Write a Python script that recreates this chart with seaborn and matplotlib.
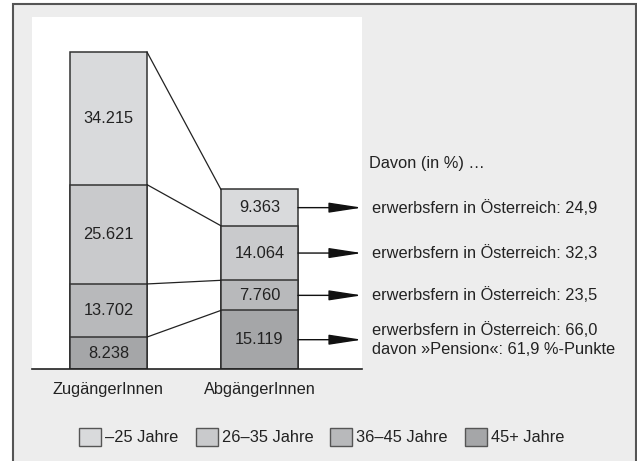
import numpy as np
import pandas as pd
import seaborn as sns
import matplotlib
matplotlib.use("Agg")
import matplotlib.pyplot as plt
from matplotlib.patches import Patch, Rectangle

groups = ["ZugängerInnen", "AbgängerInnen"]
age_labels = ["–25 Jahre", "26–35 Jahre", "36–45 Jahre", "45+ Jahre"]
zugang = [34215, 25621, 13702, 8238]
abgang = [9363, 14064, 7760, 15119]
colors = ["#d9dadc", "#c9cacc", "#b8b9bb", "#a5a6a8"]
davon_title = "Davon (in %) …"
davon_texts = [
    "erwerbsfern in Österreich: 24,9",
    "erwerbsfern in Österreich: 32,3",
    "erwerbsfern in Österreich: 23,5",
    "erwerbsfern in Österreich: 66,0\ndavon »Pension«: 61,9 %-Punkte",
]

sns.set_theme(style="white")
plt.rcParams['font.family'] = ['Liberation Sans', 'DejaVu Sans']
FS = 11.8
TXT = "#222222"

W, H = 637, 461
fig = plt.figure(figsize=(W / 100, H / 100), dpi=100)
fig.patch.set_facecolor("white")

# outer grey frame
fig.patches.append(Rectangle((13 / W, -0.05), (636 - 13) / W, 1.05 - 3.5 / H,
                             transform=fig.transFigure, facecolor="#ededed",
                             edgecolor="#555555", linewidth=1.5, zorder=-5))

ax = fig.add_axes([32 / W, 1 - 369 / H, (362 - 32) / W, (369 - 17) / H])
ax.set_zorder(1)
ax.set_facecolor("white")

# data cumulative from bottom (45+ at bottom)
order_bottom_up = [3, 2, 1, 0]
cum = {g: {} for g in groups}
for g, vals in zip(groups, [zugang, abgang]):
    run = 0
    for k in order_bottom_up:
        run += vals[k]
        cum[g][k] = (run - vals[k], run)

# draw tallest (top segment) first, then smaller cumulative bars over them
for k in [0, 1, 2, 3]:
    df = pd.DataFrame({"group": groups, "top": [cum[g][k][1] for g in groups]})
    sns.barplot(data=df, x="group", y="top", order=groups, color=colors[k],
                saturation=1, width=0.51, edgecolor="#333333", linewidth=1.1,
                ax=ax, zorder=2)

bw = 0.51
total_px = 317
ymax = sum(zugang) * (369 - 17) / total_px
ax.set_ylim(0, ymax)
ax.set_xlim(-0.5066, 1.679)

# value labels
for gi, (g, vals) in enumerate(zip(groups, [zugang, abgang])):
    for k in range(4):
        lo, hi = cum[g][k]
        ax.text(gi, (lo + hi) / 2, f"{vals[k]:,}".replace(",", "."),
                ha="center", va="center", fontsize=FS, color=TXT, zorder=5)

# connecting lines
for k in range(4):
    ax.plot([0 + bw / 2, 1 - bw / 2], [cum[groups[0]][k][1], cum[groups[1]][k][1]],
            color="#222222", linewidth=0.9, zorder=3)

# arrows and annotation texts
x_txt = 1.745
for k in range(4):
    lo, hi = cum[groups[1]][k]
    yc = (lo + hi) / 2
    ax.annotate("", xy=(1.679, yc), xytext=(1 + bw / 2, yc),
                arrowprops=dict(arrowstyle="-|>,head_length=1.7,head_width=0.26",
                                color="#111111", lw=1.0, shrinkA=0, shrinkB=0),
                annotation_clip=False, zorder=4)
    ax.text(x_txt, yc, davon_texts[k], ha="left", va="center", fontsize=FS,
            color=TXT, linespacing=1.28, clip_on=False)

ax.text(1.725, (369 - 163) / total_px * sum(zugang), davon_title, ha="left",
        va="center", fontsize=FS, color=TXT, clip_on=False)

# axes styling
for s in ["top", "left", "right"]:
    ax.spines[s].set_visible(False)
ax.spines["bottom"].set_color("#222222")
ax.spines["bottom"].set_linewidth(1.2)
ax.set_xlabel("")
ax.set_ylabel("")
ax.set_yticks([])
ax.tick_params(axis="x", length=0, pad=9.5, labelsize=FS, labelcolor=TXT)

# legend
handles = [Patch(facecolor=c, edgecolor="#555555", linewidth=1.0) for c in colors]
fig.legend(handles, age_labels, loc="center", bbox_to_anchor=(0.505, 1 - 437 / H),
           ncol=4, frameon=False, fontsize=FS, handlelength=1.34, handleheight=1.34,
           handletextpad=0.25, columnspacing=1.03, labelcolor=TXT)

fig.savefig("out.png", dpi=100, facecolor="white")
